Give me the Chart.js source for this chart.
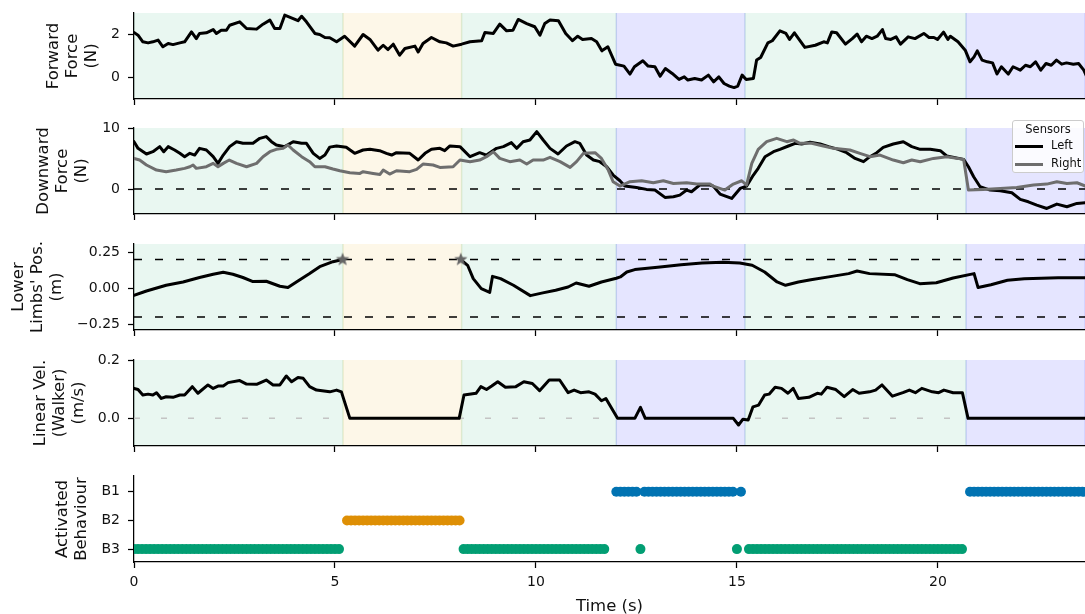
<!DOCTYPE html>
<html>
<head>
<meta charset="utf-8">
<script src="https://cdn.jsdelivr.net/npm/chart.js@4.4.0/dist/chart.umd.min.js"></script>
<style>
  html, body { margin: 0; padding: 0; background: #fff; }
  #wrap { position: relative; width: 1085px; height: 614px; overflow: hidden; font-family: 'DejaVu Sans', sans-serif; }
  #wrap canvas { position: absolute; left: 0; }
  #legend { position: absolute; left: 1012px; top: 120px; width: 72px; height: 53px; box-sizing: border-box;
            background: rgba(255,255,255,0.85); border: 1px solid #cccccc; border-radius: 3px;
            font-size: 11.5px; color: #111; }
  #legend .ttl { position: absolute; left: 0; width: 70px; top: 1px; text-align: center; }
  #legend .row { position: absolute; left: 2px; height: 14px; }
  #legend .swatch { position: absolute; left: 0; top: 6px; width: 28px; height: 3px; }
  #legend .lbl { position: absolute; left: 36px; top: -1px; white-space: nowrap; }
</style>
</head>
<body>
<div id="wrap">
  <canvas id="p1" width="1085" height="107" style="top:0px"></canvas>
  <canvas id="p2" width="1085" height="108" style="top:114px"></canvas>
  <canvas id="p3" width="1085" height="108" style="top:230px"></canvas>
  <canvas id="p4" width="1085" height="108" style="top:346px"></canvas>
  <canvas id="p5" width="1085" height="152" style="top:462px"></canvas>
  <div id="legend"></div>
</div>
<script>
// ---- data ----
const timeMax = 23.66;
const xTicks = [0, 5, 10, 15, 20];

// behaviour shading
const spanStart = [0, 5.2, 8.15, 12.0, 15.2, 20.7];
const spanEnd = [5.2, 8.15, 12.0, 15.2, 20.7, 23.66];
const spanBehaviour = ['B3', 'B2', 'B3', 'B1', 'B3', 'B1'];

// forward force (N)
const forwardTime = [0, 0.1, 0.22, 0.35, 0.47, 0.6, 0.72, 0.85, 0.97, 1.14, 1.26, 1.43, 1.55, 1.63, 1.8, 1.97, 2.05, 2.17, 2.3, 2.38,
  2.63, 2.8, 3.05, 3.21, 3.38, 3.5, 3.63, 3.75, 3.96, 4.08, 4.17, 4.29, 4.5, 4.62, 4.75, 4.87, 5.04, 5.24, 5.49, 5.7,
  5.87, 6.07, 6.2, 6.32, 6.45, 6.61, 6.74, 6.99, 7.07, 7.19, 7.4, 7.61, 7.77, 7.94, 8.15, 8.36, 8.65, 8.73, 8.94, 9.1,
  9.27, 9.43, 9.56, 9.77, 9.97, 10.1, 10.22, 10.35, 10.56, 10.74, 10.91, 11.04, 11.16, 11.38, 11.51, 11.64, 11.79, 11.98, 12.19, 12.34,
  12.45, 12.66, 12.79, 12.96, 13.09, 13.22, 13.39, 13.56, 13.69, 13.78, 13.95, 14.12, 14.29, 14.42, 14.55, 14.68, 14.81, 14.93, 15.02, 15.13,
  15.23, 15.41, 15.49, 15.59, 15.77, 15.88, 16.07, 16.22, 16.31, 16.43, 16.69, 16.95, 17.16, 17.25, 17.36, 17.48, 17.7, 17.87, 17.99, 18.1,
  18.22, 18.36, 18.49, 18.62, 18.7, 18.83, 18.96, 19.07, 19.26, 19.43, 19.65, 19.78, 19.9, 19.99, 20.14, 20.25, 20.31, 20.5, 20.68, 20.8,
  20.9, 20.98, 21.1, 21.23, 21.36, 21.47, 21.58, 21.75, 21.87, 22.05, 22.18, 22.3, 22.43, 22.56, 22.69, 22.82, 22.95, 23.08, 23.2, 23.37,
  23.5, 23.63, 23.76];
const forwardForce = [2.09, 1.97, 1.66, 1.61, 1.66, 1.74, 1.43, 1.58, 1.53, 1.61, 1.66, 2.12, 1.81, 2.05, 2.08, 2.23, 2.05, 2.2, 2.2, 2.43,
  2.59, 2.28, 2.25, 2.48, 2.67, 2.28, 2.28, 2.9, 2.74, 2.64, 2.85, 2.59, 2.05, 2.0, 1.86, 1.85, 1.66, 1.92, 1.46, 2.0,
  1.77, 1.27, 1.5, 1.3, 1.55, 1.04, 1.35, 1.46, 1.19, 1.58, 1.86, 1.66, 1.61, 1.46, 1.55, 1.66, 1.71, 2.09, 2.05, 2.48,
  2.17, 2.2, 2.7, 2.51, 2.36, 1.97, 2.51, 2.67, 2.64, 2.05, 1.71, 1.92, 1.77, 1.81, 1.66, 1.24, 1.43, 0.62, 0.53, 0.16,
  0.5, 0.78, 0.53, 0.5, 0.06, 0.42, 0.19, -0.09, 0.03, -0.12, -0.05, -0.12, 0.11, -0.2, 0.03, -0.28, -0.4, -0.47, -0.4, 0.11,
  -0.09, -0.05, 0.81, 0.93, 1.61, 1.71, 2.17, 2.05, 1.77, 2.08, 1.4, 1.5, 1.66, 1.61, 2.12, 2.08, 1.55, 1.81, 2.02, 1.66,
  1.92, 1.81, 1.92, 2.23, 1.81, 1.77, 1.89, 1.55, 1.89, 1.81, 2.05, 1.86, 1.86, 1.77, 2.11, 1.77, 1.92, 1.66, 1.27, 0.73,
  0.96, 1.24, 0.81, 0.73, 0.68, 0.16, 0.5, 0.16, 0.5, 0.34, 0.57, 0.5, 0.73, 0.34, 0.65, 0.57, 0.81, 0.62, 0.68, 0.62,
  0.65, 0.34, -0.2];

// downward force (N), left and right sensors
const leftTime = [0, 0.1, 0.31, 0.47, 0.64, 0.74, 0.85, 1.01, 1.14, 1.26, 1.39, 1.51, 1.63, 1.8, 1.97, 2.09, 2.22, 2.38, 2.55, 2.71,
  2.96, 3.13, 3.29, 3.42, 3.54, 3.75, 3.96, 4.17, 4.29, 4.46, 4.62, 4.75, 4.87, 5.04, 5.28, 5.49, 5.7, 5.87, 6.11, 6.28,
  6.41, 6.53, 6.86, 7.07, 7.24, 7.4, 7.61, 7.73, 7.86, 8.11, 8.36, 8.6, 8.77, 9.02, 9.19, 9.39, 9.52, 9.68, 9.85, 10.02,
  10.18, 10.35, 10.55, 10.76, 10.97, 11.09, 11.26, 11.43, 11.59, 11.76, 11.92, 12.09, 12.21, 12.5, 12.75, 12.96, 13.21, 13.42, 13.58, 13.75,
  13.87, 14.08, 14.33, 14.41, 14.58, 14.87, 15.08, 15.24, 15.41, 15.53, 15.7, 15.91, 16.07, 16.28, 16.45, 16.61, 16.82, 17.07, 17.28, 17.52,
  17.73, 17.94, 18.15, 18.31, 18.48, 18.64, 18.89, 19.14, 19.35, 19.56, 19.81, 20.06, 20.22, 20.64, 20.76, 20.89, 21.05, 21.3, 21.55, 21.84,
  22.05, 22.25, 22.46, 22.71, 22.96, 23.21, 23.46, 23.67];
const leftForce = [7.8, 6.7, 5.77, 6.15, 6.98, 6.15, 6.98, 6.43, 5.88, 5.33, 5.88, 5.6, 6.7, 6.43, 5.33, 4.23, 5.6, 6.98, 7.8, 7.53,
  7.53, 8.35, 8.63, 7.8, 7.25, 6.98, 7.8, 7.53, 7.53, 5.88, 5.05, 5.6, 6.9, 7.09, 6.87, 5.88, 6.43, 6.54, 6.32, 5.88,
  5.6, 5.99, 5.88, 4.78, 5.88, 6.54, 6.7, 6.32, 7.09, 6.98, 5.33, 5.99, 5.6, 6.7, 6.98, 7.64, 6.7, 7.8, 8.08, 9.45,
  8.08, 6.7, 5.77, 7.09, 7.8, 7.53, 5.6, 4.78, 4.51, 3.68, 2.31, 1.37, 0.49, 0.27, -0.05, -0.16, -1.37, -1.26, -0.99, -0.16,
  -0.44, 0.7, 0.66, 0.49, -0.82, -1.54, 0.11, 0.49, 2.31, 3.41, 5.33, 6.15, 6.54, 7.09, 7.53, 7.42, 7.69, 7.42, 6.98, 6.54,
  5.99, 5.05, 4.51, 5.33, 5.99, 6.87, 7.42, 7.8, 6.98, 6.54, 6.54, 6.32, 5.44, 4.89, 3.68, 2.03, 0.38, -0.16, -0.27, -0.6,
  -1.7, -2.09, -2.64, -3.19, -2.47, -2.91, -2.36, -2.25];
const rightTime = [0, 0.14, 0.31, 0.56, 0.8, 1.05, 1.26, 1.39, 1.47, 1.55, 1.8, 1.97, 2.09, 2.22, 2.37, 2.55, 2.8, 3.05, 3.21, 3.38,
  3.54, 3.71, 3.83, 3.96, 4.17, 4.37, 4.5, 4.75, 4.95, 5.12, 5.37, 5.62, 5.7, 5.95, 6.12, 6.2, 6.36, 6.53, 6.86, 7.03,
  7.19, 7.44, 7.61, 7.94, 8.11, 8.36, 8.6, 8.77, 8.94, 9.1, 9.35, 9.6, 9.77, 9.93, 10.18, 10.35, 10.6, 10.85, 11.01, 11.18,
  11.47, 11.63, 11.8, 11.92, 12.09, 12.34, 12.63, 12.92, 13.17, 13.42, 13.75, 14.0, 14.33, 14.41, 14.7, 14.91, 15.12, 15.24, 15.37, 15.53,
  15.74, 15.99, 16.24, 16.41, 16.57, 16.86, 17.15, 17.4, 17.81, 18.06, 18.31, 18.56, 18.89, 19.14, 19.35, 19.56, 19.89, 20.22, 20.64, 20.76,
  21.13, 21.55, 21.96, 22.38, 22.71, 22.96, 23.21, 23.46, 23.67];
const rightForce = [5.05, 4.78, 3.96, 3.13, 2.86, 3.13, 3.41, 3.68, 3.96, 3.41, 3.68, 4.23, 3.68, 4.23, 4.78, 4.23, 3.68, 4.23, 5.33, 6.15,
  6.54, 6.7, 7.25, 6.43, 5.33, 4.51, 3.68, 3.68, 3.3, 3.02, 2.69, 2.58, 2.86, 2.58, 2.4, 3.13, 2.47, 3.02, 2.86, 3.24,
  4.12, 3.96, 3.57, 3.68, 4.78, 4.51, 4.78, 5.33, 6.15, 5.05, 4.51, 4.78, 4.12, 4.78, 4.78, 5.22, 4.51, 3.57, 4.51, 5.88,
  5.99, 5.05, 3.13, 1.21, 0.49, 1.21, 1.37, 1.04, 1.37, 0.93, 1.04, 0.82, 0.82, 0.49, -0.16, 0.82, 1.37, 0.66, 4.23, 6.54,
  7.8, 8.35, 7.8, 8.08, 7.53, 7.53, 7.09, 6.7, 6.43, 5.88, 5.33, 5.6, 4.78, 4.34, 4.78, 4.51, 5.05, 5.33, 4.89, -0.16,
  -0.05, 0.11, 0.27, 0.66, 0.82, 1.21, 0.93, 1.04, 0.49];
const sensorNames = ['Left', 'Right'];
const sensorColours = ['#000000', '#6e6e6e'];

// lower limbs position (m); null = not tracked
const limbTime = [0, 0.31, 0.8, 1.22, 1.63, 1.97, 2.22, 2.46, 2.71, 2.96, 3.29, 3.63, 3.83, 4.04, 4.37, 4.62, 4.95, 5.19, 6.6, 8.13,
  8.3, 8.44, 8.64, 8.85, 8.92, 9.12, 9.44, 9.86, 10.17, 10.49, 10.8, 11.0, 11.32, 11.63, 12.0, 12.1, 12.26, 12.46, 13.09, 13.61,
  14.13, 14.65, 15.07, 15.38, 15.69, 16.0, 16.21, 16.53, 16.84, 17.36, 17.78, 17.99, 18.3, 18.92, 19.24, 19.55, 19.96, 20.38, 20.9, 21.0,
  21.32, 21.73, 22.15, 22.99, 23.66];
const limbPos = [-0.049, -0.019, 0.021, 0.044, 0.075, 0.098, 0.112, 0.098, 0.075, 0.047, 0.049, 0.014, 0.005, 0.044, 0.103, 0.15, 0.185, 0.2, null, 0.2,
  0.16, 0.067, -0.002, -0.028, 0.083, 0.067, 0.021, -0.051, -0.032, -0.014, 0.009, 0.037, 0.014, 0.044, 0.07, 0.079, 0.113, 0.13, 0.148, 0.164,
  0.176, 0.181, 0.176, 0.16, 0.113, 0.044, 0.021, 0.044, 0.06, 0.083, 0.102, 0.12, 0.102, 0.095, 0.06, 0.032, 0.039, 0.072, 0.102, 0.005,
  0.025, 0.056, 0.067, 0.074, 0.074];
const limbLimits = [-0.2, 0.2];
const starTime = [5.19, 8.13];
const starPos = [0.2, 0.2];

// walker linear velocity (m/s)
const velTime = [0, 0.1, 0.22, 0.35, 0.47, 0.56, 0.68, 0.8, 0.97, 1.14, 1.26, 1.45, 1.59, 1.84, 1.97, 2.09, 2.22, 2.34, 2.63, 2.8,
  3.05, 3.29, 3.46, 3.63, 3.79, 3.92, 4.08, 4.21, 4.37, 4.54, 4.87, 5.04, 5.16, 5.37, 8.09, 8.21, 8.51, 8.63, 8.77, 8.9,
  9.05, 9.24, 9.5, 9.7, 9.91, 10.09, 10.33, 10.59, 10.8, 10.95, 11.11, 11.32, 11.47, 11.63, 11.74, 12.03, 12.46, 12.6, 12.72, 14.91,
  15.04, 15.15, 15.28, 15.4, 15.54, 15.69, 15.8, 15.95, 16.11, 16.27, 16.4, 16.53, 16.79, 17.0, 17.1, 17.24, 17.46, 17.67, 17.88, 18.04,
  18.3, 18.45, 18.61, 18.87, 19.13, 19.29, 19.44, 19.6, 19.86, 20.02, 20.15, 20.38, 20.61, 20.75, 23.66];
const velWalker = [0.104, 0.1, 0.081, 0.084, 0.081, 0.089, 0.069, 0.075, 0.073, 0.081, 0.081, 0.11, 0.087, 0.116, 0.104, 0.112, 0.112, 0.124, 0.131, 0.119,
  0.118, 0.133, 0.116, 0.116, 0.147, 0.127, 0.142, 0.139, 0.11, 0.098, 0.092, 0.098, 0.092, 0, 0, 0.081, 0.087, 0.11, 0.1, 0.112,
  0.127, 0.108, 0.11, 0.127, 0.121, 0.096, 0.133, 0.133, 0.089, 0.098, 0.089, 0.092, 0.084, 0.061, 0.069, 0, 0, 0.038, 0, 0,
  -0.023, -0.003, -0.006, 0.04, 0.046, 0.081, 0.084, 0.108, 0.104, 0.087, 0.104, 0.069, 0.073, 0.087, 0.084, 0.108, 0.1, 0.075, 0.1, 0.087,
  0.092, 0.098, 0.116, 0.077, 0.089, 0.098, 0.089, 0.104, 0.092, 0.089, 0.098, 0.089, 0.089, 0, 0];

// activated behaviour: one code per 0.1 s sample, one string per second ('.' = none)
const behaviours = ['B3', 'B2', 'B1'];
const behaviourStep = 0.1;
const behaviourCodes = [
  '3333333333', '3333333333', '3333333333', '3333333333', '3333333333',   //  0 - 4.9 s
  '33.2222222', '2222222222', '2222222222', '2233333333', '3333333333',   //  5 - 9.9 s
  '3333333333', '33333333..', '1111113111', '1111111111', '1111111111',   // 10 - 14.9 s
  '31.3333333', '3333333333', '3333333333', '3333333333', '3333333333',   // 15 - 19.9 s
  '3333333.11', '1111111111', '1111111111', '1111111111'                  // 20 - 23.9 s
].join('');
const behaviourColours = { B1: '#0173b2', B2: '#de8f05', B3: '#029e73' };
const spanColours = { B1: 'rgba(0,0,255,0.1)', B2: 'rgba(230,165,0,0.09)', B3: 'rgba(0,160,90,0.085)' };

// tick values / labels
const forwardTicks = [0, 2], forwardTickLabels = ['0', '2'];
const downTicks = [0, 10], downTickLabels = ['0', '10'];
const limbTicks = [-0.25, 0, 0.25], limbTickLabels = ['\u22120.25', '0.00', '0.25'];
const velTicks = [0, 0.2], velTickLabels = ['0.0', '0.2'];
const behaviourTicks = [0, 1, 2];

// ---- drawing ----
const TXT = '#111111';
const plotLeft = 134;
Chart.defaults.font.family = "'DejaVu Sans', sans-serif";
Chart.defaults.color = TXT;

const spanPlugin = {
  id: 'behaviourSpans',
  beforeDraw(chart, args, opts) {
    if (!opts.show) return;
    const { ctx, chartArea: a, scales: { x } } = chart;
    ctx.save();
    ctx.beginPath();
    ctx.rect(a.left, a.top, a.right - a.left, a.bottom - a.top);
    ctx.clip();
    for (let i = 0; i < spanStart.length; i++) {
      const x0 = x.getPixelForValue(spanStart[i]);
      const x1 = x.getPixelForValue(spanEnd[i]);
      const col = spanColours[spanBehaviour[i]];
      ctx.fillStyle = col;
      ctx.fillRect(x0, a.top, x1 - x0, a.bottom - a.top);
      ctx.strokeStyle = col;
      ctx.lineWidth = 1.5;
      ctx.beginPath();
      ctx.moveTo(x0, a.top); ctx.lineTo(x0, a.bottom);
      ctx.moveTo(x1, a.top); ctx.lineTo(x1, a.bottom);
      ctx.stroke();
    }
    ctx.restore();
  }
};

function pts(ts, vs) { return ts.map((t, i) => ({ x: t, y: vs[i] })); }

function fixedTicks(values) {
  return function (scale) { scale.ticks = values.map(v => ({ value: v })); };
}

function lineSet(label, ts, vs, colour, order) {
  return { label, data: pts(ts, vs), borderColor: colour, backgroundColor: colour, borderWidth: 3,
           pointRadius: 0, borderJoinStyle: 'round', borderCapStyle: 'round', order, clip: 0 };
}

function refLine(y, colour, dash) {
  return { data: [{ x: 0, y }, { x: timeMax, y }], borderColor: colour, borderWidth: 1.5,
           borderDash: dash, pointRadius: 0, order: 10, clip: 0 };
}

const axisLine = { display: true, color: '#000', width: 1.25 };
const tickMarks = { drawOnChartArea: false, drawTicks: true, tickLength: 6, tickColor: '#000', tickWidth: 1.25 };

function xAxis(labels) {
  return {
    type: 'linear', min: 0, max: timeMax,
    afterBuildTicks: fixedTicks(xTicks),
    afterFit: s => { s.height = labels ? 52 : 8; s.paddingLeft = 0; s.paddingRight = 0; },
    border: axisLine, grid: tickMarks,
    ticks: { display: labels, padding: 6, maxRotation: 0, font: { size: 14 }, color: TXT },
    title: { display: labels, text: 'Time (s)', color: TXT, font: { size: 16.5, lineHeight: 1.15 }, padding: { top: 0, bottom: -2 } }
  };
}

function yAxis(min, max, ticks, labels, title, pad) {
  return {
    type: 'linear', min, max,
    afterBuildTicks: fixedTicks(ticks),
    afterFit: s => { s.width = plotLeft; s.paddingTop = 0; s.paddingBottom = 0; },
    border: axisLine, grid: tickMarks,
    ticks: { padding: 8, font: { size: 14 }, color: TXT, callback: (v, i) => labels[i] },
    title: { display: true, text: title, color: TXT, font: { size: 16.5, lineHeight: 1.15 }, padding: { top: pad, bottom: 0 } }
  };
}

function panel(id, padTop, datasets, y, shaded, xLabels) {
  return new Chart(document.getElementById(id), {
    type: 'line',
    data: { datasets },
    plugins: [spanPlugin],
    options: {
      responsive: false, animation: false, devicePixelRatio: 1, events: [],
      layout: { autoPadding: false, padding: { top: padTop, left: 0, right: 0, bottom: 0 } },
      plugins: { legend: { display: false }, tooltip: { enabled: false }, behaviourSpans: { show: shaded } },
      scales: { x: xAxis(xLabels), y }
    }
  });
}

function starImage(r, colour) {
  const c = document.createElement('canvas');
  c.width = c.height = 2 * r + 2;
  const g = c.getContext('2d');
  g.beginPath();
  for (let k = 0; k < 10; k++) {
    const rad = k % 2 ? r * 0.42 : r;
    const a = -Math.PI / 2 + k * Math.PI / 5;
    g.lineTo(r + 1 + rad * Math.cos(a), r + 1 + rad * Math.sin(a));
  }
  g.closePath();
  g.fillStyle = colour;
  g.fill();
  return c;
}

// 1: forward force
panel('p1', 13, [lineSet('Forward', forwardTime, forwardForce, '#000', 1)],
  yAxis(-1, 3, forwardTicks, forwardTickLabels, ['Forward', 'Force', '(N)'], 44), true, false);

// 2: downward force
panel('p2', 14, [
    lineSet(sensorNames[1], rightTime, rightForce, sensorColours[1], 1),
    lineSet(sensorNames[0], leftTime, leftForce, sensorColours[0], 2),
    refLine(0, '#000', [8, 13])
  ],
  yAxis(-4.1, 10.05, downTicks, downTickLabels, ['Downward', 'Force', '(N)'], 34.5), true, false);

// 3: lower limbs position
panel('p3', 14, [
    { data: pts(starTime, starPos), showLine: false, pointStyle: starImage(7, '#666666'), pointRadius: 7, order: 0, clip: false },
    lineSet('Limbs', limbTime, limbPos, '#000', 1),
    refLine(limbLimits[0], '#000', [8, 13]),
    refLine(limbLimits[1], '#000', [8, 13])
  ],
  yAxis(-0.29, 0.308, limbTicks, limbTickLabels, ['Lower', "Limbs' Pos.", '(m)'], 9), true, false);

// 4: walker velocity
panel('p4', 14, [
    lineSet('Velocity', velTime, velWalker, '#000', 1),
    refLine(0, '#c4c4c4', [6, 21])
  ],
  yAxis(-0.096, 0.2025, velTicks, velTickLabels, ['Linear Vel.', '(Walker)', '(m/s)'], 31.5), true, false);

// 5: activated behaviour
const behaviourSets = behaviours.map((b, level) => {
  const data = [];
  for (let i = 0; i < behaviourCodes.length; i++) {
    if (behaviourCodes[i] === b.slice(1)) data.push({ x: i * behaviourStep, y: level });
  }
  return { label: b, data, showLine: false, pointRadius: 5, pointBorderWidth: 0,
           pointBackgroundColor: behaviourColours[b], borderColor: behaviourColours[b], clip: 0 };
});
panel('p5', 14, behaviourSets,
  yAxis(-0.45, 2.55, behaviourTicks, behaviours, ['Activated', 'Behaviour'], 53.5), false, true);

// legend for the sensor lines
const legend = document.getElementById('legend');
legend.innerHTML = '<div class="ttl">Sensors</div>' + sensorNames.map((n, i) =>
  '<div class="row" style="top:' + (18 + i * 18) + 'px"><div class="swatch" style="background:' + sensorColours[i] +
  '"></div><div class="lbl">' + n + '</div></div>').join('');
</script>
</body>
</html>
